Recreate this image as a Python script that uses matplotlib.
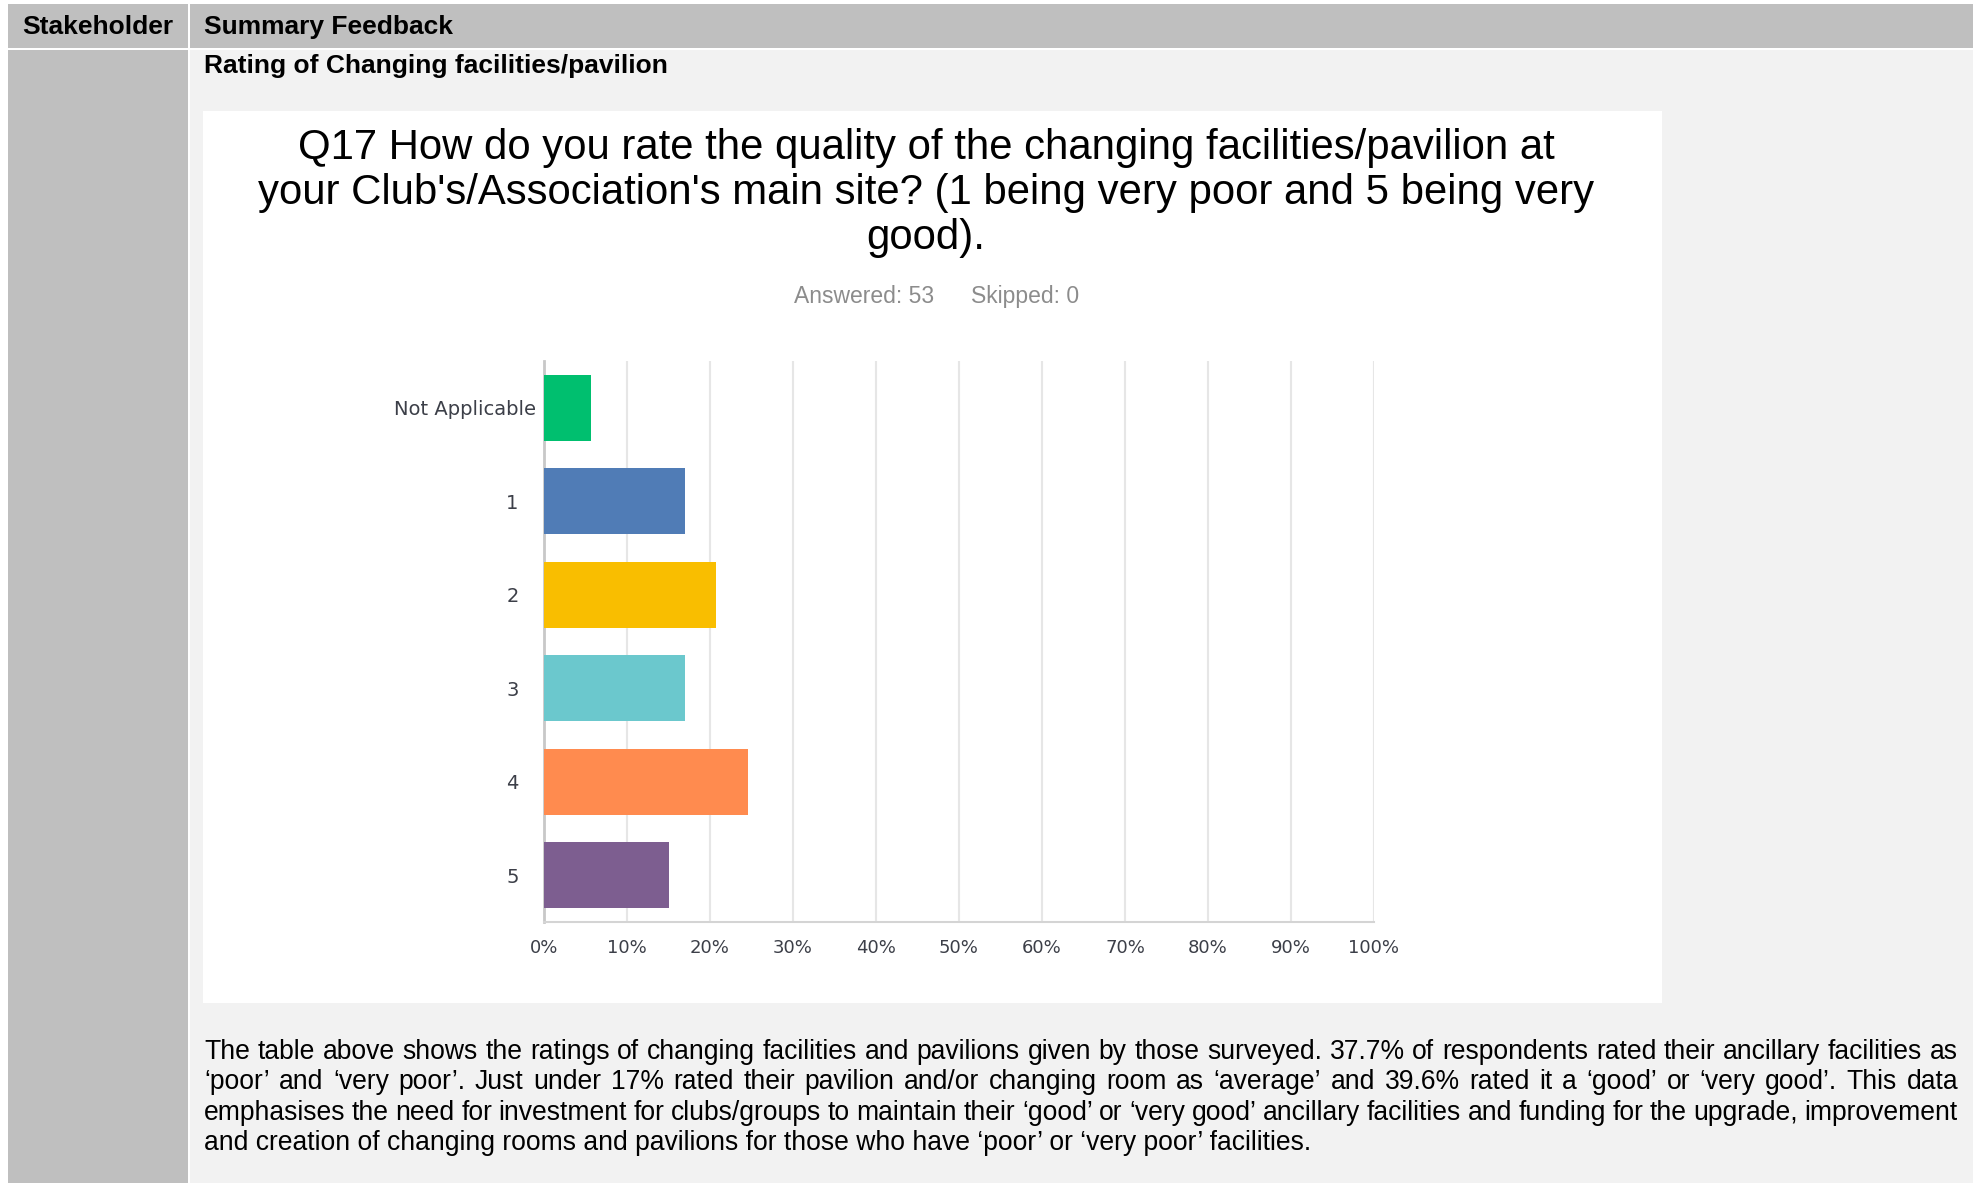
import numpy as np
import matplotlib
matplotlib.use("Agg")
import matplotlib.pyplot as plt
from matplotlib.patches import Rectangle
from matplotlib.transforms import ScaledTranslation

W, H = 1977, 1183

categories = ["Not Applicable", "1", "2", "3", "4", "5"]
responses = [3, 9, 11, 9, 13, 8]
skipped = 0
bar_colors = ["#00bf6f", "#507cb6", "#f9be00", "#6bc8cd", "#ff8b4f", "#7d5e90"]
xticks = [0, 10, 20, 30, 40, 50, 60, 70, 80, 90, 100]

title = ("Q17 How do you rate the quality of the changing facilities/pavilion at\n"
         "your Club's/Association's main site? (1 being very poor and 5 being very\n"
         "good).")

paragraph = [
    "The table above shows the ratings of changing facilities and pavilions given by those surveyed. 37.7% of respondents rated their ancillary facilities as",
    "\u2018poor\u2019 and \u2018very poor\u2019. Just under 17% rated their pavilion and/or changing room as \u2018average\u2019 and 39.6% rated it a \u2018good\u2019 or \u2018very good\u2019. This data",
    "emphasises the need for investment for clubs/groups to maintain their \u2018good\u2019 or \u2018very good\u2019 ancillary facilities and funding for the upgrade, improvement",
    "and creation of changing rooms and pavilions for those who have \u2018poor\u2019 or \u2018very poor\u2019 facilities.",
]

answered = sum(responses)
pct = np.array(responses) / answered * 100

fig = plt.figure(figsize=(W / 100, H / 100), dpi=100)
fig.patch.set_facecolor("white")

# page layer in pixel units (y down)
bg = fig.add_axes([0, 0, 1, 1])
bg.set_xlim(0, W)
bg.set_ylim(H, 0)
bg.axis("off")

def box(x0, y0, x1, y1, color):
    bg.add_patch(Rectangle((x0, y0), x1 - x0, y1 - y0, facecolor=color,
                           edgecolor="none", zorder=0))

box(8, 4, 188, 48, "#bfbfbf")
box(190, 4, 1973, 48, "#bfbfbf")
box(8, 50, 188, H, "#bfbfbf")
box(190, 50, 1973, H, "#f2f2f2")
box(203, 111, 1662, 1003, "white")

hdr = dict(family="Liberation Sans", fontsize=19, fontweight="bold",
           color="black", va="center")
bg.text(22, 27, "Stakeholder", **hdr)
bg.text(204, 27, "Summary Feedback", **hdr)
bg.text(204, 66, "Rating of Changing facilities/pavilion", **hdr)

bg.text(926, 193, title, family="Liberation Sans", fontsize=30.2, color="black",
        ha="center", va="center", linespacing=1.15)
bg.text(864, 296, f"Answered: {answered}", family="Liberation Sans", fontsize=16.5,
        color="#8c8c8c", ha="center", va="center")
bg.text(1025, 296, f"Skipped: {skipped}", family="Liberation Sans", fontsize=16.5,
        color="#8c8c8c", ha="center", va="center")

# justified paragraph below the chart
renderer = fig.canvas.get_renderer()
left, right = 204, 1958
baselines = [1059, 1089, 1120, 1150]
pstyle = dict(family="Liberation Sans", fontsize=19.1, color="black", va="baseline")
for i, (line, yb) in enumerate(zip(paragraph, baselines)):
    if i == len(paragraph) - 1:
        bg.text(left, yb, line, **pstyle)
        continue
    words = line.split(" ")
    arts = [bg.text(left, yb, w, **pstyle) for w in words]
    widths = [a.get_window_extent(renderer).width for a in arts]
    gap = (right - left - sum(widths)) / (len(words) - 1)
    x = left
    for a, w in zip(arts, widths):
        a.set_x(x)
        x += w + gap

# bar chart
ax = fig.add_axes([544 / W, 1 - 922 / H, 830 / W, 561 / H])
ypos = np.arange(len(categories))
ax.barh(ypos, pct, height=0.71, color=bar_colors, zorder=3)
ax.set_xlim(0, 100)
ax.set_ylim(len(categories) - 0.5, -0.5)
ax.set_xticks(xticks)
ax.set_xticklabels([f"{t}%" for t in xticks])
ax.set_yticks(ypos)
ax.set_yticklabels(categories)
ax.xaxis.grid(True, color="#e6e6e6", linewidth=1.5, zorder=0)
ax.set_axisbelow(True)
for side in ["top", "right"]:
    ax.spines[side].set_visible(False)
ax.spines["left"].set_color("#c8c8c8")
ax.spines["left"].set_linewidth(2)
ax.spines["bottom"].set_color("#d4d4d4")
ax.spines["bottom"].set_linewidth(1.5)
ax.tick_params(axis="both", length=0, labelcolor="#3c3f48")
ax.tick_params(axis="x", pad=12, labelsize=13)
ax.tick_params(axis="y", pad=6, labelsize=14)
for lab in ax.get_xticklabels() + ax.get_yticklabels():
    lab.set_family("DejaVu Sans")
shift = ScaledTranslation(-0.17, 0, fig.dpi_scale_trans)
for lab in ax.get_yticklabels():
    if lab.get_text().isdigit():
        lab.set_transform(lab.get_transform() + shift)

fig.savefig("out.png", dpi=100)
